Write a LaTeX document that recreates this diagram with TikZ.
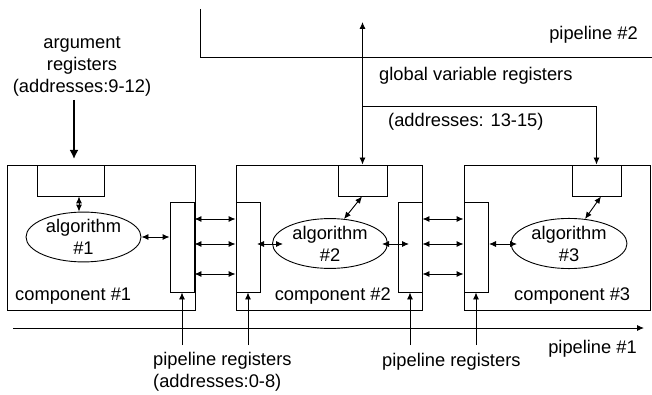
\documentclass[tikz,border=0pt]{standalone}
\usepackage{fontspec}
\setmainfont{Liberation Sans}
\usetikzlibrary{arrows.meta,shapes.geometric}
\begin{document}
\begin{tikzpicture}[x=1pt,y=-1pt,
  every node/.style={font=\fontsize{18.3}{22}\selectfont, inner sep=0pt},
  box/.style={draw, line width=0.9pt, inner sep=0pt},
  alg/.style={draw, line width=0.9pt, ellipse, inner sep=0pt, align=center},
  line/.style={line width=0.9pt},
  con/.style={line width=0.9pt, -{Latex[length=7pt,width=6pt]}},
  dcon/.style={line width=0.9pt, {Latex[length=7pt,width=6pt]}-{Latex[length=7pt,width=6pt]}},
  thickcon/.style={line width=2.4pt, -{Latex[length=9pt,width=9pt]}},
  lbl/.style={align=center}
]
\useasboundingbox (0,0) rectangle (652,395);
% components
\node[box, minimum width=188pt, minimum height=145pt] (c1) at (101,237.5) {};
\node[box, minimum width=186pt, minimum height=145pt] (c2) at (329,237.5) {};
\node[box, minimum width=186pt, minimum height=145pt] (c3) at (557,237.5) {};
% top register boxes
\node[box, minimum width=67pt, minimum height=31pt] (t1) at (70.5,180.5) {};
\node[box, minimum width=49pt, minimum height=31pt] (t2) at (362.5,180.5) {};
\node[box, minimum width=49pt, minimum height=31pt] (t3) at (596.5,180.5) {};
% pipeline register boxes
\node[box, minimum width=24pt, minimum height=90pt] (p1) at (182,247) {};
\node[box, minimum width=24pt, minimum height=90pt] (p2) at (248,247) {};
\node[box, minimum width=24pt, minimum height=90pt] (p3) at (410,247) {};
\node[box, minimum width=24pt, minimum height=90pt] (p4) at (476,247) {};
% algorithms
\node[alg, minimum width=115pt, minimum height=48pt] (a1) at (83.5,237) {algorithm\\\#1};
\node[alg, minimum width=115pt, minimum height=49pt] (a2) at (330,243.5) {algorithm\\\#2};
\node[alg, minimum width=116pt, minimum height=49pt] (a3) at (569,243.5) {algorithm\\\#3};
% component labels
\node[anchor=west] (l1) at (15,296) {component \#1};
\node[anchor=east] (l2) at (391,296) {component \#2};
\node[anchor=west] (l3) at (514,296) {component \#3};
% pipeline 2
\coordinate (pp2a) at (200,9);
\coordinate (pp2b) at (200,57);
\coordinate (pp2c) at (652,57);
\draw[line] (pp2a) -- (pp2b) -- (pp2c);
\node[anchor=east] (pl2) at (638,35) {pipeline \#2};
% global variable registers
\coordinate (gtop) at (362.5,22);
\coordinate (gbr) at (362.5,106);
\coordinate (gcorner) at (596.5,106);
\draw[dcon] (gtop) -- (t2.north);
\draw[con] (gbr) -- (gcorner) -- (t3.north);
\node[anchor=west] (gv) at (379,76) {global variable registers};
\node[anchor=west] (gva) at (388,122) {(addresses: 13-15)};
% argument registers
\node[lbl] (arg) at (82,66) {argument\\registers\\(addresses:9-12)};
\coordinate (argA) at (74,100);
\coordinate (argB) at (74,159);
\draw[thickcon] (argA) -- (argB);
% arrows inside components
\draw[dcon] (t1.south -| 79,0) -- (a1.north -| 79,0);
\draw[dcon] (a1.east) -- (p1.west |- a1.east);
\coordinate (a2l1) at (257,244);
\coordinate (a2l2) at (283,244);
\draw[dcon] (a2l1) -- (a2l2);
\coordinate (a2r1) at (382,244);
\coordinate (a2r2) at (409,244);
\draw[dcon] (a2r1) -- (a2r2);
\coordinate (a3l1) at (489,244);
\coordinate (a3l2) at (517,244);
\draw[dcon] (a3l1) -- (a3l2);
\draw[dcon] (344,219) -- (t2.south -| 362,0);
\draw[dcon] (585,219) -- (t3.south -| 601,0);
% pipeline register links
\foreach \yy in {219,244,274}{
  \draw[dcon] (p1.east |- 0,\yy) -- (p2.west |- 0,\yy);
  \draw[dcon] (p3.east |- 0,\yy) -- (p4.west |- 0,\yy);
}
% pipeline 1
\coordinate (pp1a) at (13,328);
\coordinate (pp1b) at (644,328);
\draw[con] (pp1a) -- (pp1b);
\node[anchor=east] (pl1) at (637,349) {pipeline \#1};
% pipeline register labels
\coordinate (r1) at (182,345);
\coordinate (r2) at (248,345);
\coordinate (r3) at (410,345);
\coordinate (r4) at (476,345);
\draw[con] (r1) -- (p1.south);
\draw[con] (r2) -- (p2.south);
\draw[con] (r3) -- (p3.south);
\draw[con] (r4) -- (p4.south);
\node[anchor=north west, align=left] (prl) at (153,352) {pipeline registers\\(addresses:0-8)};
\node[anchor=west] (prr) at (382,362) {pipeline registers};
\end{tikzpicture}
\end{document}
